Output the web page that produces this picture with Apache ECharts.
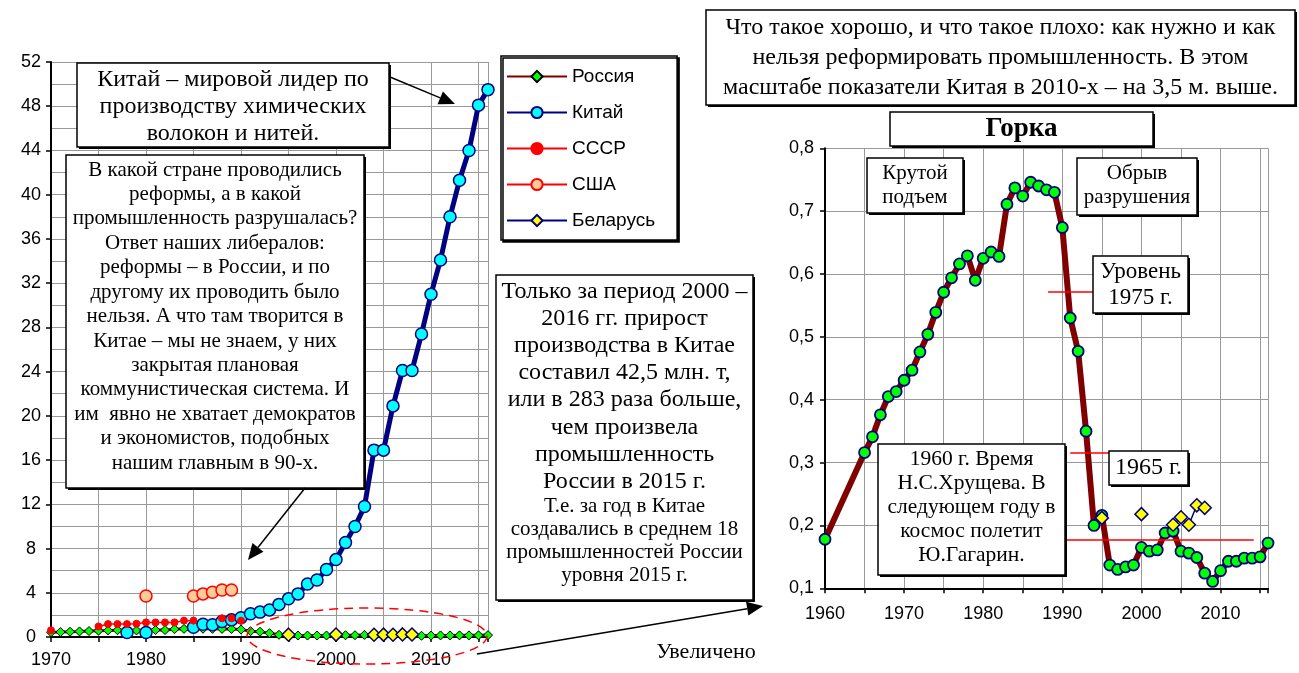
<!DOCTYPE html>
<html>
<head>
<meta charset="utf-8">
<title>Химические волокна и нити</title>
<script src="https://cdn.jsdelivr.net/npm/echarts@6.0.0/dist/echarts.min.js"></script>
<style>
html,body{margin:0;padding:0;background:#fff;}
#main{width:1299px;height:673px;}
</style>
</head>
<body>
<div id="main"></div>
<script>
// производство химических волокон и нитей, млн т
let ruYears = [1960,1965,1966,1967,1968,1969,1970,1971,1972,1973,1974,1975,1976,1977,1978,1979,
    1980,1981,1982,1983,1984,1985,1986,1987,1988,1989,1990,1991,1992,1993,1994,1995,1996,1997,1998,1999,
    2000,2001,2002,2003,2004,2005,2006,2007,2008,2009,2010,2011,2012,2013,2014,2015,2016];
let ruValues = [0.178,0.316,0.341,0.376,0.405,0.413,0.431,0.447,0.476,0.504,0.539,0.571,0.594,0.616,0.629,0.590,
    0.625,0.635,0.628,0.711,0.737,0.724,0.746,0.740,0.734,0.730,0.674,0.530,0.477,0.350,0.200,0.216,0.137,0.130,0.134,0.137,
    0.165,0.159,0.161,0.188,0.191,0.159,0.156,0.149,0.124,0.111,0.128,0.143,0.143,0.148,0.148,0.150,0.172];

let cnYears = [1978,1980,1985,1986,1987,1988,1989,1990,1991,1992,1993,1994,1995,1996,1997,1998,1999,
    2000,2001,2002,2003,2004,2005,2006,2007,2008,2009,2010,2011,2012,2013,2014,2015,2016];
let cnValues = [0.4,0.4,0.88,1.15,1.1,1.4,1.55,1.75,2.1,2.25,2.45,2.95,3.45,3.9,4.8,5.15,6.1,
    7.0,8.55,10.0,11.8,16.9,16.9,20.9,24.1,24.1,27.4,31.0,34.1,38.0,41.3,44.0,48.1,49.5];

let suYears = [1970,1975,1976,1977,1978,1979,1980,1981,1982,1983,1984,1985,1988,1989,1990];
let suValues = [0.6,0.95,1.17,1.17,1.17,1.2,1.32,1.32,1.32,1.32,1.48,1.48,1.69,1.69,1.48];

let usYears = [1980,1985,1986,1987,1988,1989];
let usValues = [3.7,3.7,3.9,4.05,4.25,4.25];

let byYears = [1995,2000,2004,2005,2006,2007,2008];
let byValues = [0.212,0.218,0.201,0.213,0.201,0.232,0.228];

let legendNames = ['Россия','Китай','СССР','США','Беларусь'];

const SERIF = '"Liberation Serif","Times New Roman",serif';
const SANS = '"Liberation Sans",Arial,sans-serif';

// пары [год, значение]; пропуск лет рвёт линию
function pairs(xs, ys, gaps){
    let out = [];
    for(let i = 0; i < xs.length; i++){
        if(gaps && i > 0 && xs[i] - xs[i-1] > 1) out.push([xs[i-1] + 0.5, null]);
        out.push([xs[i], ys[i]]);
    }
    return out;
}
function level(y){ return ruValues[ruYears.indexOf(y)]; }

function box(x, y, w, h){
    return [
        {type:'rect', z:100, shape:{x:x+2, y:y+2, width:w, height:h}, style:{fill:'#000'}},
        {type:'rect', z:101, shape:{x:x, y:y, width:w, height:h}, style:{fill:'#fff', stroke:'#000', lineWidth:1.5}}
    ];
}
function txt(x, y, text, size, lh, extra){
    return {type:'text', z:102, x:x, y:y, style:Object.assign({
        text:text, font:size + 'px ' + SERIF, fill:'#000', align:'center', verticalAlign:'top', lineHeight:lh
    }, extra || {})};
}
function arrow(x1, y1, x2, y2){
    let a = Math.atan2(y2 - y1, x2 - x1), L = 16, W = 7;
    let bx = x2 - L * Math.cos(a), by = y2 - L * Math.sin(a);
    return [
        {type:'line', z:103, shape:{x1:x1, y1:y1, x2:bx, y2:by}, style:{stroke:'#000', lineWidth:1.5}},
        {type:'polygon', z:103, shape:{points:[[x2,y2],[bx - W*Math.sin(a), by + W*Math.cos(a)],[bx + W*Math.sin(a), by - W*Math.cos(a)]]}, style:{fill:'#000'}}
    ];
}

let ruLeft = ruYears.filter(y => y >= 1970);
let ruLeftVals = ruLeft.map(y => level(y));

let g = [];
g.push(...box(77, 63, 312, 84));
g.push(txt(233, 66.6, 'Китай – мировой лидер по\nпроизводству химических\nволокон и нитей.', 24, 26.7));
g.push(...box(66, 155, 298, 333));
g.push(txt(215, 157.8, 'В какой стране проводились\nреформы, а в какой\nпромышленность разрушалась?\nОтвет наших либералов:\nреформы – в России, и по\nдругому их проводить было\nнельзя. А что там творится в\nКитае – мы не знаем, у них\nзакрытая плановая\nкоммунистическая система. И\nим  явно не хватает демократов\nи экономистов, подобных\nнашим главным в 90-х.', 21, 24.44));
g.push(...box(496, 275, 257, 325));
g.push(txt(624.5, 278, 'Только за период 2000 –\n2016 гг. прирост\nпроизводства в Китае\nсоставил 42,5 млн. т,\nили в 283 раза больше,\nчем произвела\nпромышленность\nРоссии в 2015 г.', 24, 27.14));
g.push(txt(624.5, 495.3, 'Т.е. за год в Китае\nсоздавались в среднем 18\nпромышленностей России\nуровня 2015 г.', 21, 22.8));
g.push(...box(706, 10, 589, 95));
g.push(txt(1000.5, 12.5, 'Что такое хорошо, и что такое плохо: как нужно и как\nнельзя реформировать промышленность. В этом\nмасштабе показатели Китая в 2010-х – на 3,5 м. выше.', 24, 30));
g.push(...box(890, 112, 263, 34));
g.push(txt(1021.5, 129.5, 'Горка', 27, 30, {font:'bold 27px ' + SERIF, verticalAlign:'middle'}));
g.push(...box(867, 158, 96, 55));
g.push(txt(915, 162.3, 'Крутой\nподъем', 21, 23.3));
g.push(...box(1077, 158, 120, 57));
g.push(txt(1137, 162.3, 'Обрыв\nразрушения', 21, 23.3));
g.push(...box(1093, 256, 95, 57));
g.push(txt(1140.5, 258.5, 'Уровень\n1975 г.', 23, 26));
g.push(...box(1109, 451, 79, 34));
g.push(txt(1148.5, 468, '1965 г.', 24, 26, {verticalAlign:'middle'}));
g.push(...box(878, 444, 187, 131));
g.push(txt(971.5, 447, '1960 г. Время\nН.С.Хрущева. В\nследующем году в\nкосмос полетит\nЮ.Гагарин.', 21.5, 24));
g.push(txt(706, 640, 'Увеличено', 22, 24));
g.push({type:'ellipse', z:99, shape:{cx:367, cy:636, rx:120, ry:28},
    style:{fill:'none', stroke:'#ff0000', lineWidth:1.5, lineDash:[9,6]}});
g.push(...arrow(390, 77, 455, 104));
g.push(...arrow(305, 488, 248, 560));
g.push(...arrow(477, 654, 763, 606));

let gridLine = {show:true, lineStyle:{color:'#999', width:1}};
let axisBlack = {show:true, onZero:false, lineStyle:{color:'#000', width:2}};
let tick = {show:true, length:5, lineStyle:{color:'#000', width:1.5}};

let option = {
    backgroundColor:'#fff',
    animation:false,
    legend:{
        data:legendNames, orient:'vertical', left:501, top:56,
        itemWidth:60, itemHeight:14, itemGap:17, padding:[11,22,10,5],
        backgroundColor:'#fff', borderColor:'#000', borderWidth:1.5,
        shadowColor:'#000', shadowOffsetX:2, shadowOffsetY:2,
        selectedMode:false, z:50,
        textStyle:{fontFamily:SANS, fontSize:19, color:'#000'}
    },
    grid:[
        {left:51, top:62, width:437, height:575},
        {left:825, top:148.3, width:443, height:440}
    ],
    xAxis:[
        {type:'value', gridIndex:0, min:1970, max:2016, interval:5,
            axisLine:axisBlack, axisTick:tick, splitLine:gridLine,
            axisLabel:{margin:14, fontFamily:SANS, fontSize:18, color:'#000',
                formatter:v => v % 10 === 0 ? String(v) : ''}},
        {type:'value', gridIndex:1, min:1960, max:2016, interval:5,
            axisLine:axisBlack, axisTick:tick, splitLine:gridLine,
            axisLabel:{margin:17, fontFamily:SANS, fontSize:18, color:'#000',
                formatter:v => v % 10 === 0 ? String(v) : ''}}
    ],
    yAxis:[
        {type:'value', gridIndex:0, min:0, max:52, interval:4,
            axisLine:axisBlack, axisTick:tick, splitLine:gridLine,
            minorTick:{show:false, splitNumber:2}, minorSplitLine:gridLine,
            axisLabel:{margin:20, align:'center', fontFamily:SANS, fontSize:18, color:'#000'}},
        {type:'value', gridIndex:1, min:0.1, max:0.8, interval:0.1,
            axisLine:axisBlack, axisTick:tick, splitLine:gridLine,
            axisLabel:{margin:11, fontFamily:SANS, fontSize:18, color:'#000',
                formatter:v => v.toFixed(1).replace('.', ',')}}
    ],
    series:[
        {name:'Россия', type:'line', xAxisIndex:0, yAxisIndex:0, clip:false,
            data:pairs(ruLeft, ruLeftVals, true), symbol:'diamond', symbolSize:9, showAllSymbol:true,
            lineStyle:{color:'#800000', width:3}, itemStyle:{color:'#00ff00', borderColor:'#000', borderWidth:1}},
        {name:'Китай', type:'line', xAxisIndex:0, yAxisIndex:0, clip:false,
            data:pairs(cnYears, cnValues, true), symbol:'circle', symbolSize:12, showAllSymbol:true,
            lineStyle:{color:'#000080', width:5}, itemStyle:{color:'#00ffff', borderColor:'#000080', borderWidth:1.5}},
        {name:'СССР', type:'line', xAxisIndex:0, yAxisIndex:0, clip:false,
            data:pairs(suYears, suValues, true), symbol:'circle', symbolSize:7, showAllSymbol:true,
            lineStyle:{color:'#ff0000', width:1.5}, itemStyle:{color:'#ff0000', borderColor:'#ff0000', borderWidth:1}},
        {name:'США', type:'line', xAxisIndex:0, yAxisIndex:0, clip:false,
            data:pairs(usYears, usValues, true), symbol:'circle', symbolSize:12, showAllSymbol:true,
            lineStyle:{color:'#ff0000', width:1.5}, itemStyle:{color:'#ffcc99', borderColor:'#ff0000', borderWidth:1.5}},
        {name:'Беларусь', type:'line', xAxisIndex:0, yAxisIndex:0, clip:false,
            data:pairs(byYears, byValues, true), symbol:'diamond', symbolSize:13, showAllSymbol:true,
            lineStyle:{color:'#000080', width:1.5}, itemStyle:{color:'#ffff00', borderColor:'#000080', borderWidth:1.5}},
        {name:'Россия', type:'line', xAxisIndex:1, yAxisIndex:1, clip:false,
            data:pairs(ruYears, ruValues, false), symbol:'circle', symbolSize:11, showAllSymbol:true,
            lineStyle:{color:'#800000', width:6}, itemStyle:{color:'#00ff00', borderColor:'#000080', borderWidth:1.8},
            markLine:{silent:true, symbol:'none', label:{show:false},
                lineStyle:{color:'#ff0000', width:1.5, type:'solid'},
                data:[
                    [{coord:[1988.2, level(1975)]}, {coord:[1994.5, level(1975)]}],
                    [{coord:[1991.0, level(1965)]}, {coord:[1996.0, level(1965)]}],
                    [{coord:[1990.5, level(1960)]}, {coord:[2014.2, level(1960)]}]
                ]}},
        {name:'Беларусь', type:'line', xAxisIndex:1, yAxisIndex:1, clip:false,
            data:pairs(byYears, byValues, true), symbol:'diamond', symbolSize:13, showAllSymbol:true,
            lineStyle:{color:'#000080', width:1.5}, itemStyle:{color:'#ffff00', borderColor:'#000080', borderWidth:1.5}}
    ],
    graphic:g
};

let chart = echarts.init(document.getElementById('main'));
chart.setOption(option);
</script>
</body>
</html>
